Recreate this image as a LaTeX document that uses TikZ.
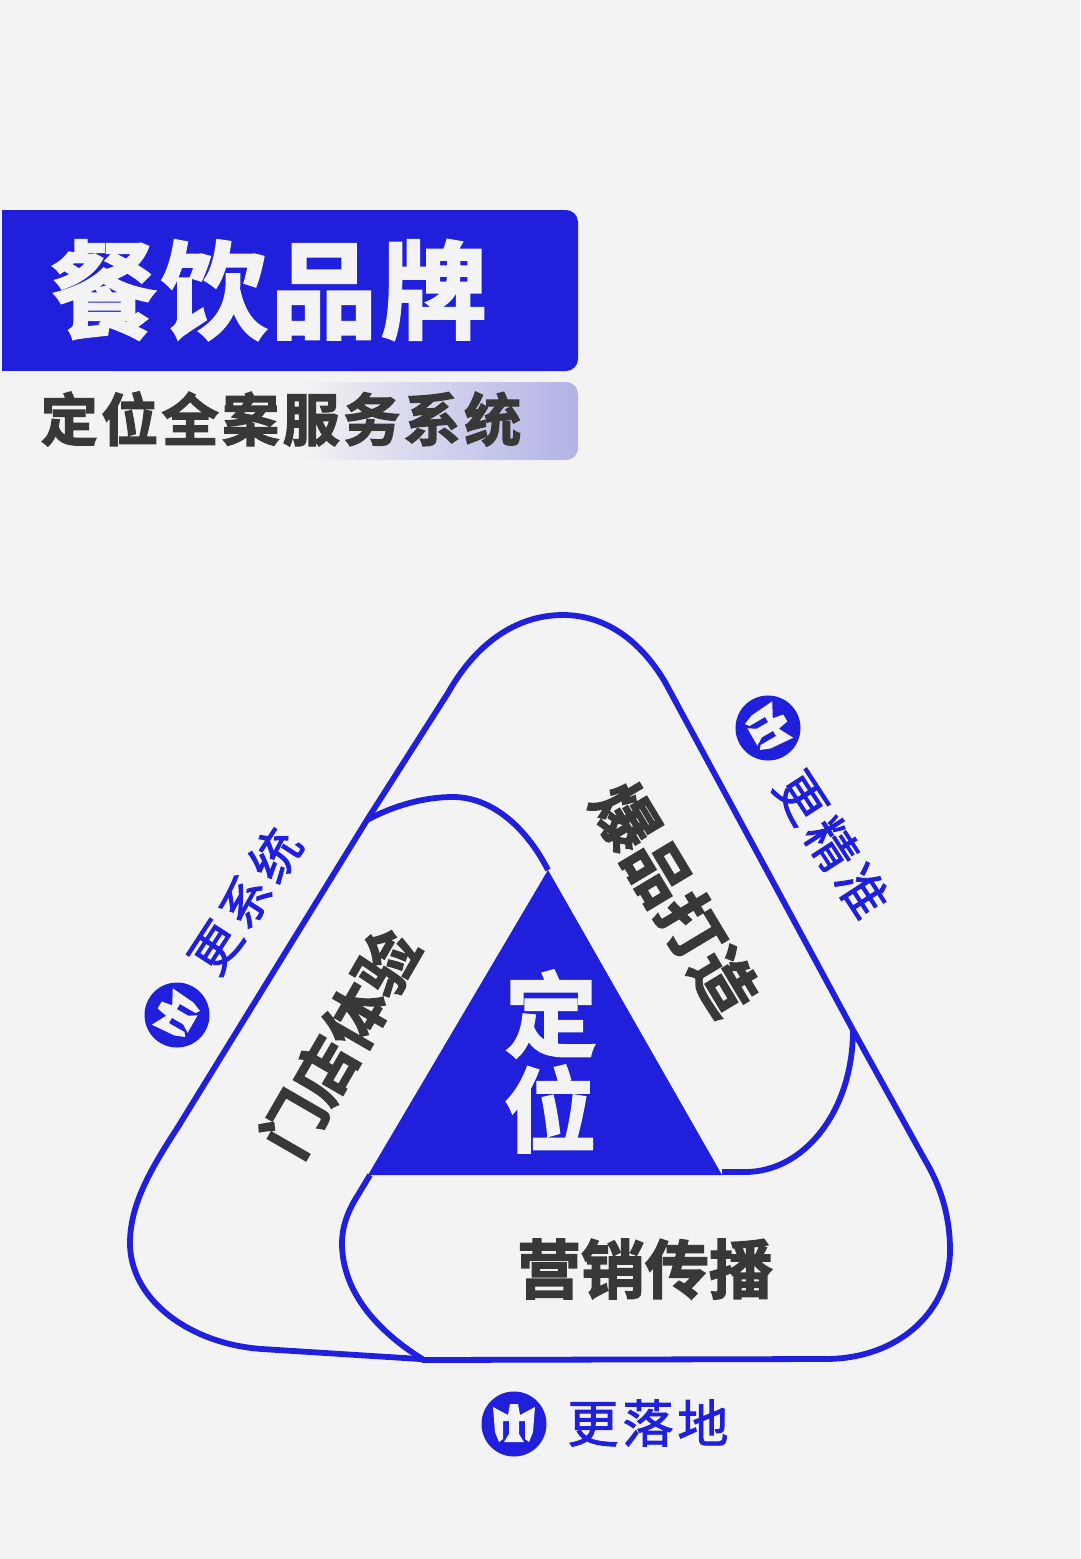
\documentclass[tikz,border=0pt]{standalone}
\usepackage{fontspec}
\newfontfamily\cjktag[FakeBold=1.8]{Noto Sans CJK SC}
\newfontfamily\cjkheavy[FakeBold=2.4]{Noto Sans CJK SC Bold}
\definecolor{bg}{HTML}{F3F3F3}
\definecolor{brand}{HTML}{2020DC}
\definecolor{ink}{HTML}{383838}
\definecolor{lav}{HTML}{B2B2E6}
\tikzset{
 ring/.style={draw=brand,line width=5.8pt,line join=round},
 heavy/.style={font=\cjkheavy\fontsize{#1}{#1}\selectfont,text=ink,inner sep=0pt},
 light/.style={font=\cjkheavy\fontsize{#1}{#1}\selectfont,text=bg,inner sep=0pt},
 tag/.style={font=\cjktag\fontsize{#1}{#1}\selectfont,text=brand,inner sep=0pt},
 logo/.pic={
  \fill[brand] (0,0) circle (32.5);
  \fill[bg] (-21,-17) -- (-6,-9) -- (-4,-20) -- (4,-20) -- (6,-9) -- (21,-17) -- (19,8) -- (15,18) -- (11,15) -- (11,-3) -- (5,-3) -- (5,10) -- (10,18) -- (-10,18) -- (-5,10) -- (-5,-3) -- (-11,-3) -- (-11,15) -- (-15,18) -- (-19,8) -- cycle;
 }
}
\begin{document}
\begin{tikzpicture}[x=1pt,y=-1pt]
\useasboundingbox (0,0) rectangle (1080,1559);
\fill[bg] (0,0) rectangle (1080,1559);
% header
\fill[brand,rounded corners=12pt] (100,210) rectangle (578,371);
\fill[brand] (2,210) rectangle (200,371);
\node[light=106] (title) at (269,290) {餐\hspace{4pt}饮\hspace{4pt}品\hspace{4pt}牌};
\shade[left color=bg,right color=lav,rounded corners=12pt] (300,382) rectangle (578,460);
\node[heavy=57] (sub) at (281,419) {定\hspace{3.5pt}位\hspace{3.5pt}全\hspace{3.5pt}案\hspace{3.5pt}服\hspace{3.5pt}务\hspace{3.5pt}系\hspace{3.5pt}统};
% triangle
\fill[brand] (548,870) -- (722,1175) -- (368,1175) -- cycle;
% rings
\draw[ring] (424,1360) -- (420,1359) -- (262,1349) .. controls (190,1344) and (130,1300) .. (130,1243) .. controls (130,1205) and (150,1170) .. (178,1127) -- (367,820) -- (448,693) .. controls (475,645) and (515,615) .. (563,615) .. controls (605,615) and (640,640) .. (665,682) -- (853,1030) -- (925,1160) .. controls (940,1185) and (950,1215) .. (950,1250) .. controls (950,1310) and (900,1359) .. (825,1359) -- cycle;
\draw[ring] (367,820) .. controls (395,805) and (425,797) .. (453,797) .. controls (490,797) and (525,825) .. (548,870);
\draw[ring] (853,1030) .. controls (853,1110) and (805,1172) .. (745,1172) -- (722,1172);
\draw[ring] (370,1175) -- (358,1195) .. controls (347,1212) and (342,1228) .. (342,1243) .. controls (342,1290) and (375,1330) .. (424,1360);
% texts
\node[light=92] (d1) at (551,1014) {定};
\node[light=92] (d2) at (550,1109) {位};
\node[heavy=64] (bottomlabel) at (645,1269) {营销传播};
\node[heavy=62,rotate=60] (leftlabel) at (340,1043) {门店体验};
\node[heavy=64,rotate=-59] (rightlabel) at (675,899) {爆品打造};
\node[tag=51] (t1) at (648,1423) {更\hspace{4pt}落\hspace{4pt}地};
\node[tag=50,rotate=57] (t2) at (245,901) {更\hspace{5pt}系\hspace{5pt}统};
\node[tag=50,rotate=-57] (t3) at (832,844) {更\hspace{6pt}精\hspace{6pt}准};
% logos
\pic at (514,1424) {logo};
\pic[rotate=60] at (177,1015) {logo};
\pic[rotate=-60] at (768,728) {logo};
\end{tikzpicture}
\end{document}
